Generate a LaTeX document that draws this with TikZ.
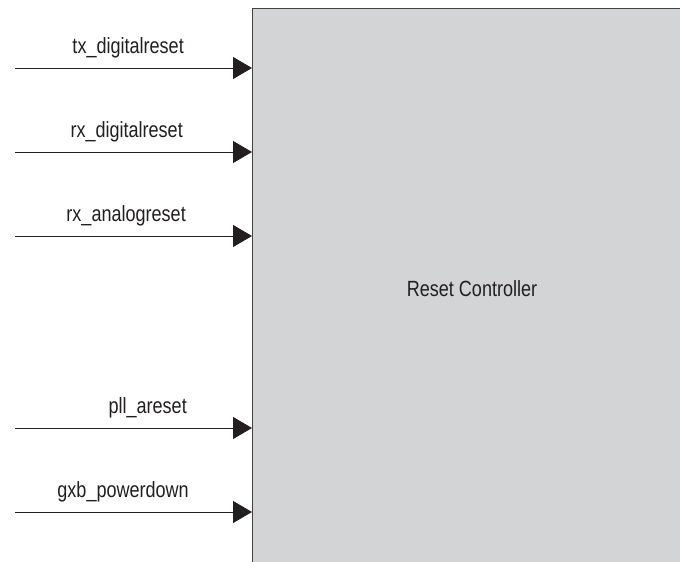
\documentclass[tikz,border=0pt]{standalone}
\usepackage{fontspec}
\setmainfont{Liberation Sans}[FakeStretch=0.82]
\usetikzlibrary{arrows.meta}
\definecolor{boxfill}{HTML}{D3D4D6}
\definecolor{ink}{HTML}{231F20}
\begin{document}
\begin{tikzpicture}[x=1pt,y=-1pt,
  lbl/.style={font=\fontsize{22}{26}\selectfont, text=ink, inner sep=0pt, anchor=base east},
  sig/.style={line width=1pt, draw=ink, -{Triangle[length=19pt,width=22pt]}},
  ctrl/.style={draw=ink!85, line width=1.4pt, fill=boxfill, anchor=north west,
    minimum width=450pt, minimum height=580pt, inner sep=0pt}]
\useasboundingbox (0,0) rectangle (680,562);
\node[ctrl] (box) at (252,8) {};
\node[font=\fontsize{22}{26}\selectfont, text=ink, inner sep=0pt, anchor=base] (title) at (472,296) {Reset Controller};
\coordinate (s1) at (15,68);
\coordinate (s2) at (15,152);
\coordinate (s3) at (15,236);
\coordinate (s4) at (15,428);
\coordinate (s5) at (15,512);
\draw[sig] (s1) -- (s1 -| box.west);
\draw[sig] (s2) -- (s2 -| box.west);
\draw[sig] (s3) -- (s3 -| box.west);
\draw[sig] (s4) -- (s4 -| box.west);
\draw[sig] (s5) -- (s5 -| box.west);
\node[lbl] (l1) at (184,53) {tx\_digitalreset};
\node[lbl] (l2) at (183,137) {rx\_digitalreset};
\node[lbl] (l3) at (186,221) {rx\_analogreset};
\node[lbl] (l4) at (187,413) {pll\_areset};
\node[lbl] (l5) at (189,497) {gxb\_powerdown};
\end{tikzpicture}
\end{document}
